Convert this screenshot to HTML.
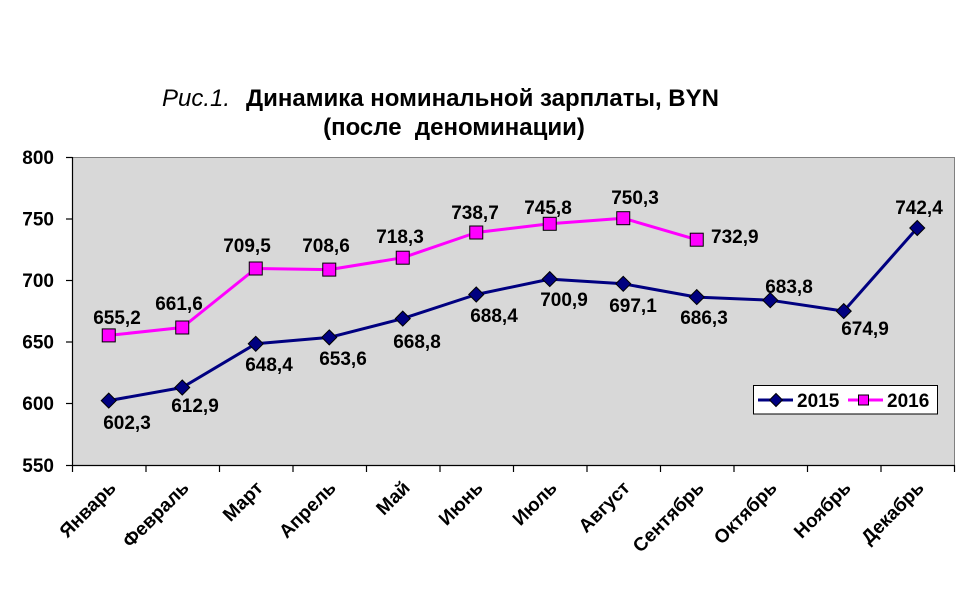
<!DOCTYPE html>
<html>
<head>
<meta charset="utf-8">
<style>
  html, body { margin:0; padding:0; background:#ffffff; }
  svg { display:block; }
  text { font-family: "Liberation Sans", "DejaVu Sans", sans-serif; fill:#000; }
  .lbl { font-size:19px; font-weight:bold; }
</style>
</head>
<body>
<svg width="970" height="604" viewBox="0 0 970 604" xmlns="http://www.w3.org/2000/svg">
  <rect x="0" y="0" width="970" height="604" fill="#ffffff"/>

  <!-- Title -->
  <text x="162" y="106" font-size="24" font-style="italic">Рис.1.</text>
  <text x="246" y="106" font-size="24" font-weight="bold">Динамика номинальной зарплаты, BYN</text>
  <text x="454" y="135" font-size="24" font-weight="bold" text-anchor="middle" xml:space="preserve">(после  деноминации)</text>

  <!-- Plot area -->
  <rect x="72.5" y="157" width="881.5" height="308" fill="#d8d8d8"/>
  <line x1="72.5" y1="157.5" x2="954" y2="157.5" stroke="#808080" stroke-width="1"/>
  <line x1="954.5" y1="157" x2="954.5" y2="465" stroke="#808080" stroke-width="1"/>
  <line x1="72.5" y1="157" x2="72.5" y2="465.5" stroke="#000" stroke-width="1.2"/>
  <line x1="72" y1="465.5" x2="955" y2="465.5" stroke="#000" stroke-width="1.2"/>

  <!-- Y ticks -->
  <g stroke="#000" stroke-width="1.2">
    <line x1="66" y1="157.5" x2="72.5" y2="157.5"/>
    <line x1="66" y1="219" x2="72.5" y2="219"/>
    <line x1="66" y1="280.5" x2="72.5" y2="280.5"/>
    <line x1="66" y1="342" x2="72.5" y2="342"/>
    <line x1="66" y1="403.5" x2="72.5" y2="403.5"/>
    <line x1="66" y1="465.5" x2="72.5" y2="465.5"/>
  </g>
  <g class="lbl" text-anchor="end">
    <text class="lbl" x="54" y="164">800</text>
    <text class="lbl" x="54" y="225.5">750</text>
    <text class="lbl" x="54" y="287">700</text>
    <text class="lbl" x="54" y="348.5">650</text>
    <text class="lbl" x="54" y="410">600</text>
    <text class="lbl" x="54" y="472">550</text>
  </g>

  <!-- X ticks -->
  <g stroke="#000" stroke-width="1.2">
    <line x1="72.5" y1="465" x2="72.5" y2="472"/>
    <line x1="146" y1="465" x2="146" y2="472"/>
    <line x1="219.5" y1="465" x2="219.5" y2="472"/>
    <line x1="293" y1="465" x2="293" y2="472"/>
    <line x1="366.5" y1="465" x2="366.5" y2="472"/>
    <line x1="440" y1="465" x2="440" y2="472"/>
    <line x1="513.5" y1="465" x2="513.5" y2="472"/>
    <line x1="587" y1="465" x2="587" y2="472"/>
    <line x1="660.5" y1="465" x2="660.5" y2="472"/>
    <line x1="734" y1="465" x2="734" y2="472"/>
    <line x1="807.5" y1="465" x2="807.5" y2="472"/>
    <line x1="881" y1="465" x2="881" y2="472"/>
    <line x1="954.5" y1="465" x2="954.5" y2="472"/>
  </g>

  <!-- X labels -->
  <g text-anchor="end">
    <text class="lbl" transform="translate(117,489) rotate(-45)">Январь</text>
    <text class="lbl" transform="translate(190,489) rotate(-45)">Февраль</text>
    <text class="lbl" transform="translate(264,489) rotate(-45)">Март</text>
    <text class="lbl" transform="translate(337,489) rotate(-45)">Апрель</text>
    <text class="lbl" transform="translate(411,489) rotate(-45)">Май</text>
    <text class="lbl" transform="translate(484,489) rotate(-45)">Июнь</text>
    <text class="lbl" transform="translate(558,489) rotate(-45)">Июль</text>
    <text class="lbl" transform="translate(631,489) rotate(-45)">Август</text>
    <text class="lbl" transform="translate(705,489) rotate(-45)">Сентябрь</text>
    <text class="lbl" transform="translate(778,489) rotate(-45)">Октябрь</text>
    <text class="lbl" transform="translate(852,489) rotate(-45)">Ноябрь</text>
    <text class="lbl" transform="translate(925,489) rotate(-45)">Декабрь</text>
  </g>

  <!-- Series 2016 -->
  <polyline fill="none" stroke="#ff00ff" stroke-width="3" stroke-linejoin="round"
    points="108.75,335.4 182.25,327.5 255.75,268.5 329.25,269.6 402.75,257.7 476.25,232.5 549.75,223.8 623.25,218.2 696.75,239.7"/>
  <!-- Series 2015 -->
  <polyline fill="none" stroke="#000080" stroke-width="3" stroke-linejoin="round"
    points="108.75,400.6 182.25,387.5 255.75,343.8 329.25,337.4 402.75,318.6 476.25,294.5 549.75,279.1 623.25,283.8 696.75,297.1 770.25,300.2 843.75,311.1 917.25,228.0"/>

  <!-- 2016 markers -->
  <g fill="#ff00ff" stroke="#000" stroke-width="1">
    <rect x="102.25" y="328.9" width="13" height="13"/>
    <rect x="175.75" y="321" width="13" height="13"/>
    <rect x="249.25" y="262" width="13" height="13"/>
    <rect x="322.75" y="263.1" width="13" height="13"/>
    <rect x="396.25" y="251.2" width="13" height="13"/>
    <rect x="469.75" y="226" width="13" height="13"/>
    <rect x="543.25" y="217.3" width="13" height="13"/>
    <rect x="616.75" y="211.7" width="13" height="13"/>
    <rect x="690.25" y="233.2" width="13" height="13"/>
  </g>

  <!-- 2015 markers -->
  <g fill="#000080" stroke="#000" stroke-width="1">
    <polygon points="108.75,393.1 116.25,400.6 108.75,408.1 101.25,400.6"/>
    <polygon points="182.25,380 189.75,387.5 182.25,395 174.75,387.5"/>
    <polygon points="255.75,336.3 263.25,343.8 255.75,351.3 248.25,343.8"/>
    <polygon points="329.25,329.9 336.75,337.4 329.25,344.9 321.75,337.4"/>
    <polygon points="402.75,311.1 410.25,318.6 402.75,326.1 395.25,318.6"/>
    <polygon points="476.25,287 483.75,294.5 476.25,302 468.75,294.5"/>
    <polygon points="549.75,271.6 557.25,279.1 549.75,286.6 542.25,279.1"/>
    <polygon points="623.25,276.3 630.75,283.8 623.25,291.3 615.75,283.8"/>
    <polygon points="696.75,289.6 704.25,297.1 696.75,304.6 689.25,297.1"/>
    <polygon points="770.25,292.7 777.75,300.2 770.25,307.7 762.75,300.2"/>
    <polygon points="843.75,303.6 851.25,311.1 843.75,318.6 836.25,311.1"/>
    <polygon points="917.25,220.5 924.75,228 917.25,235.5 909.75,228"/>
  </g>

  <!-- 2016 data labels -->
  <g text-anchor="middle">
    <text class="lbl" x="117" y="324">655,2</text>
    <text class="lbl" x="179" y="310">661,6</text>
    <text class="lbl" x="247" y="252">709,5</text>
    <text class="lbl" x="326" y="252">708,6</text>
    <text class="lbl" x="400" y="243">718,3</text>
    <text class="lbl" x="475" y="219">738,7</text>
    <text class="lbl" x="548" y="214">745,8</text>
    <text class="lbl" x="635" y="204">750,3</text>
  </g>
  <text class="lbl" x="711" y="243">732,9</text>

  <!-- 2015 data labels -->
  <g text-anchor="middle">
    <text class="lbl" x="127" y="429">602,3</text>
    <text class="lbl" x="195" y="412">612,9</text>
    <text class="lbl" x="269" y="371">648,4</text>
    <text class="lbl" x="343" y="365">653,6</text>
    <text class="lbl" x="417" y="348">668,8</text>
    <text class="lbl" x="494" y="322">688,4</text>
    <text class="lbl" x="564" y="306">700,9</text>
    <text class="lbl" x="633" y="312">697,1</text>
    <text class="lbl" x="704" y="324">686,3</text>
    <text class="lbl" x="789" y="293">683,8</text>
    <text class="lbl" x="865" y="335">674,9</text>
    <text class="lbl" x="919" y="214">742,4</text>
  </g>

  <!-- Legend -->
  <rect x="753.5" y="385.5" width="184" height="28.5" fill="#ffffff" stroke="#000" stroke-width="1"/>
  <line x1="758" y1="400" x2="793" y2="400" stroke="#000080" stroke-width="3"/>
  <polygon points="776,393.5 782.5,400 776,406.5 769.5,400" fill="#000080" stroke="#000" stroke-width="1"/>
  <text class="lbl" x="797" y="407">2015</text>
  <line x1="848" y1="400" x2="883" y2="400" stroke="#ff00ff" stroke-width="3"/>
  <rect x="858.5" y="395" width="10" height="10" fill="#ff00ff" stroke="#000" stroke-width="1"/>
  <text class="lbl" x="887" y="407">2016</text>
</svg>
</body>
</html>
